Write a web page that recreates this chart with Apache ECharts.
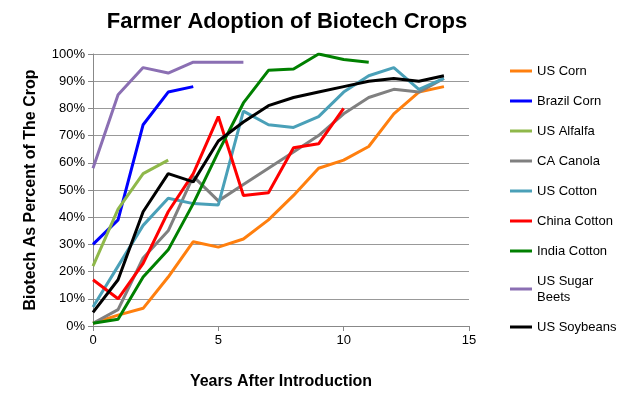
<!DOCTYPE html>
<html>
<head>
<meta charset="utf-8">
<script src="https://cdn.jsdelivr.net/npm/echarts@6/dist/echarts.min.js"></script>
<style>html,body{margin:0;padding:0;background:#fff}#main{width:640px;height:407px}</style>
</head>
<body>
<div id="main"></div>
<script>
var seriesNames = ["US Corn", "Brazil Corn", "US Alfalfa", "CA Canola", "US Cotton", "China Cotton", "India Cotton", "US Sugar Beets", "US Soybeans"];
var seriesColors = ["#ff7f0e", "#0000ff", "#8fb84a", "#808080", "#4aa0b8", "#ff0000", "#008000", "#8b6fb3", "#000000"];

var usCorn = [1, 4, 6.5, 18, 31, 29, 32, 39, 48, 58, 61, 66, 78, 86, 88];
var brazilCorn = [30, 39, 74, 86, 88];
var usAlfalfa = [22, 43, 56, 61];
var caCanola = [1, 6, 25, 35, 55, 46, 52, 58, 64, 70, 78, 84, 87, 86, 91];
var usCotton = [7, 22, 37, 47, 45, 44.5, 79, 74, 73, 77, 86, 92, 95, 87, 91];
var chinaCotton = [17, 10, 23, 42, 56, 77, 48, 49, 65.5, 67, 80];
var indiaCotton = [1, 2.5, 18, 28, 45, 64, 82, 94, 94.5, 100, 98, 97];
var usSugarBeets = [58, 85, 95, 93, 97, 97, 97];
var usSoybeans = [5, 17, 42, 56, 53, 68, 75, 81, 84, 86, 88, 90, 91, 90, 92];

var allValues = [usCorn, brazilCorn, usAlfalfa, caCanola, usCotton, chinaCotton, indiaCotton, usSugarBeets, usSoybeans];

var myChart = echarts.init(document.getElementById("main"));

var series = seriesNames.map(function (name, i) {
  return {
    name: name,
    type: "line",
    showSymbol: false,
    symbol: "none",
    lineStyle: { width: 3, color: seriesColors[i] },
    itemStyle: { color: seriesColors[i] },
    data: allValues[i].map(function (v, x) { return [x, v]; })
  };
});

var option = {
  animation: false,
  title: {
    text: "Farmer Adoption of Biotech Crops",
    left: 282, top: 6, textAlign: "center",
    textStyle: { fontFamily: "Liberation Sans", fontWeight: "bold", fontSize: 22, color: "#000" }
  },
  legend: {
    orient: "vertical",
    left: 505, top: 58,
    itemWidth: 22, itemHeight: 3,
    icon: "rect",
    itemGap: 14,
    textStyle: { fontFamily: "Liberation Sans", fontSize: 13, color: "#000", lineHeight: 16 },
    formatter: function (n) { return n === "US Sugar Beets" ? "US Sugar\nBeets" : n; },
    data: seriesNames
  },
  grid: { left: 93, right: 171, top: 54, bottom: 81 },
  xAxis: {
    type: "value", min: 0, max: 15, interval: 5,
    name: "Years After Introduction", nameLocation: "middle", nameGap: 48,
    nameTextStyle: { fontFamily: "Liberation Sans", fontWeight: "bold", fontSize: 16, color: "#000" },
    axisLine: { lineStyle: { color: "#888" } },
    axisTick: { show: true, lineStyle: { color: "#888" } },
    axisLabel: { fontFamily: "Liberation Sans", fontSize: 13, color: "#000" },
    splitLine: { show: false }
  },
  yAxis: {
    type: "value", min: 0, max: 100, interval: 10,
    name: "Biotech As Percent of The Crop", nameLocation: "middle", nameGap: 54,
    nameTextStyle: { fontFamily: "Liberation Sans", fontWeight: "bold", fontSize: 16, color: "#000" },
    axisLine: { show: true, lineStyle: { color: "#888" } },
    axisTick: { show: true, lineStyle: { color: "#888" } },
    axisLabel: { fontFamily: "Liberation Sans", fontSize: 13, color: "#000", formatter: "{value}%" },
    splitLine: { lineStyle: { color: "#999" } }
  },
  series: series
};

myChart.setOption(option);
</script>
</body>
</html>
